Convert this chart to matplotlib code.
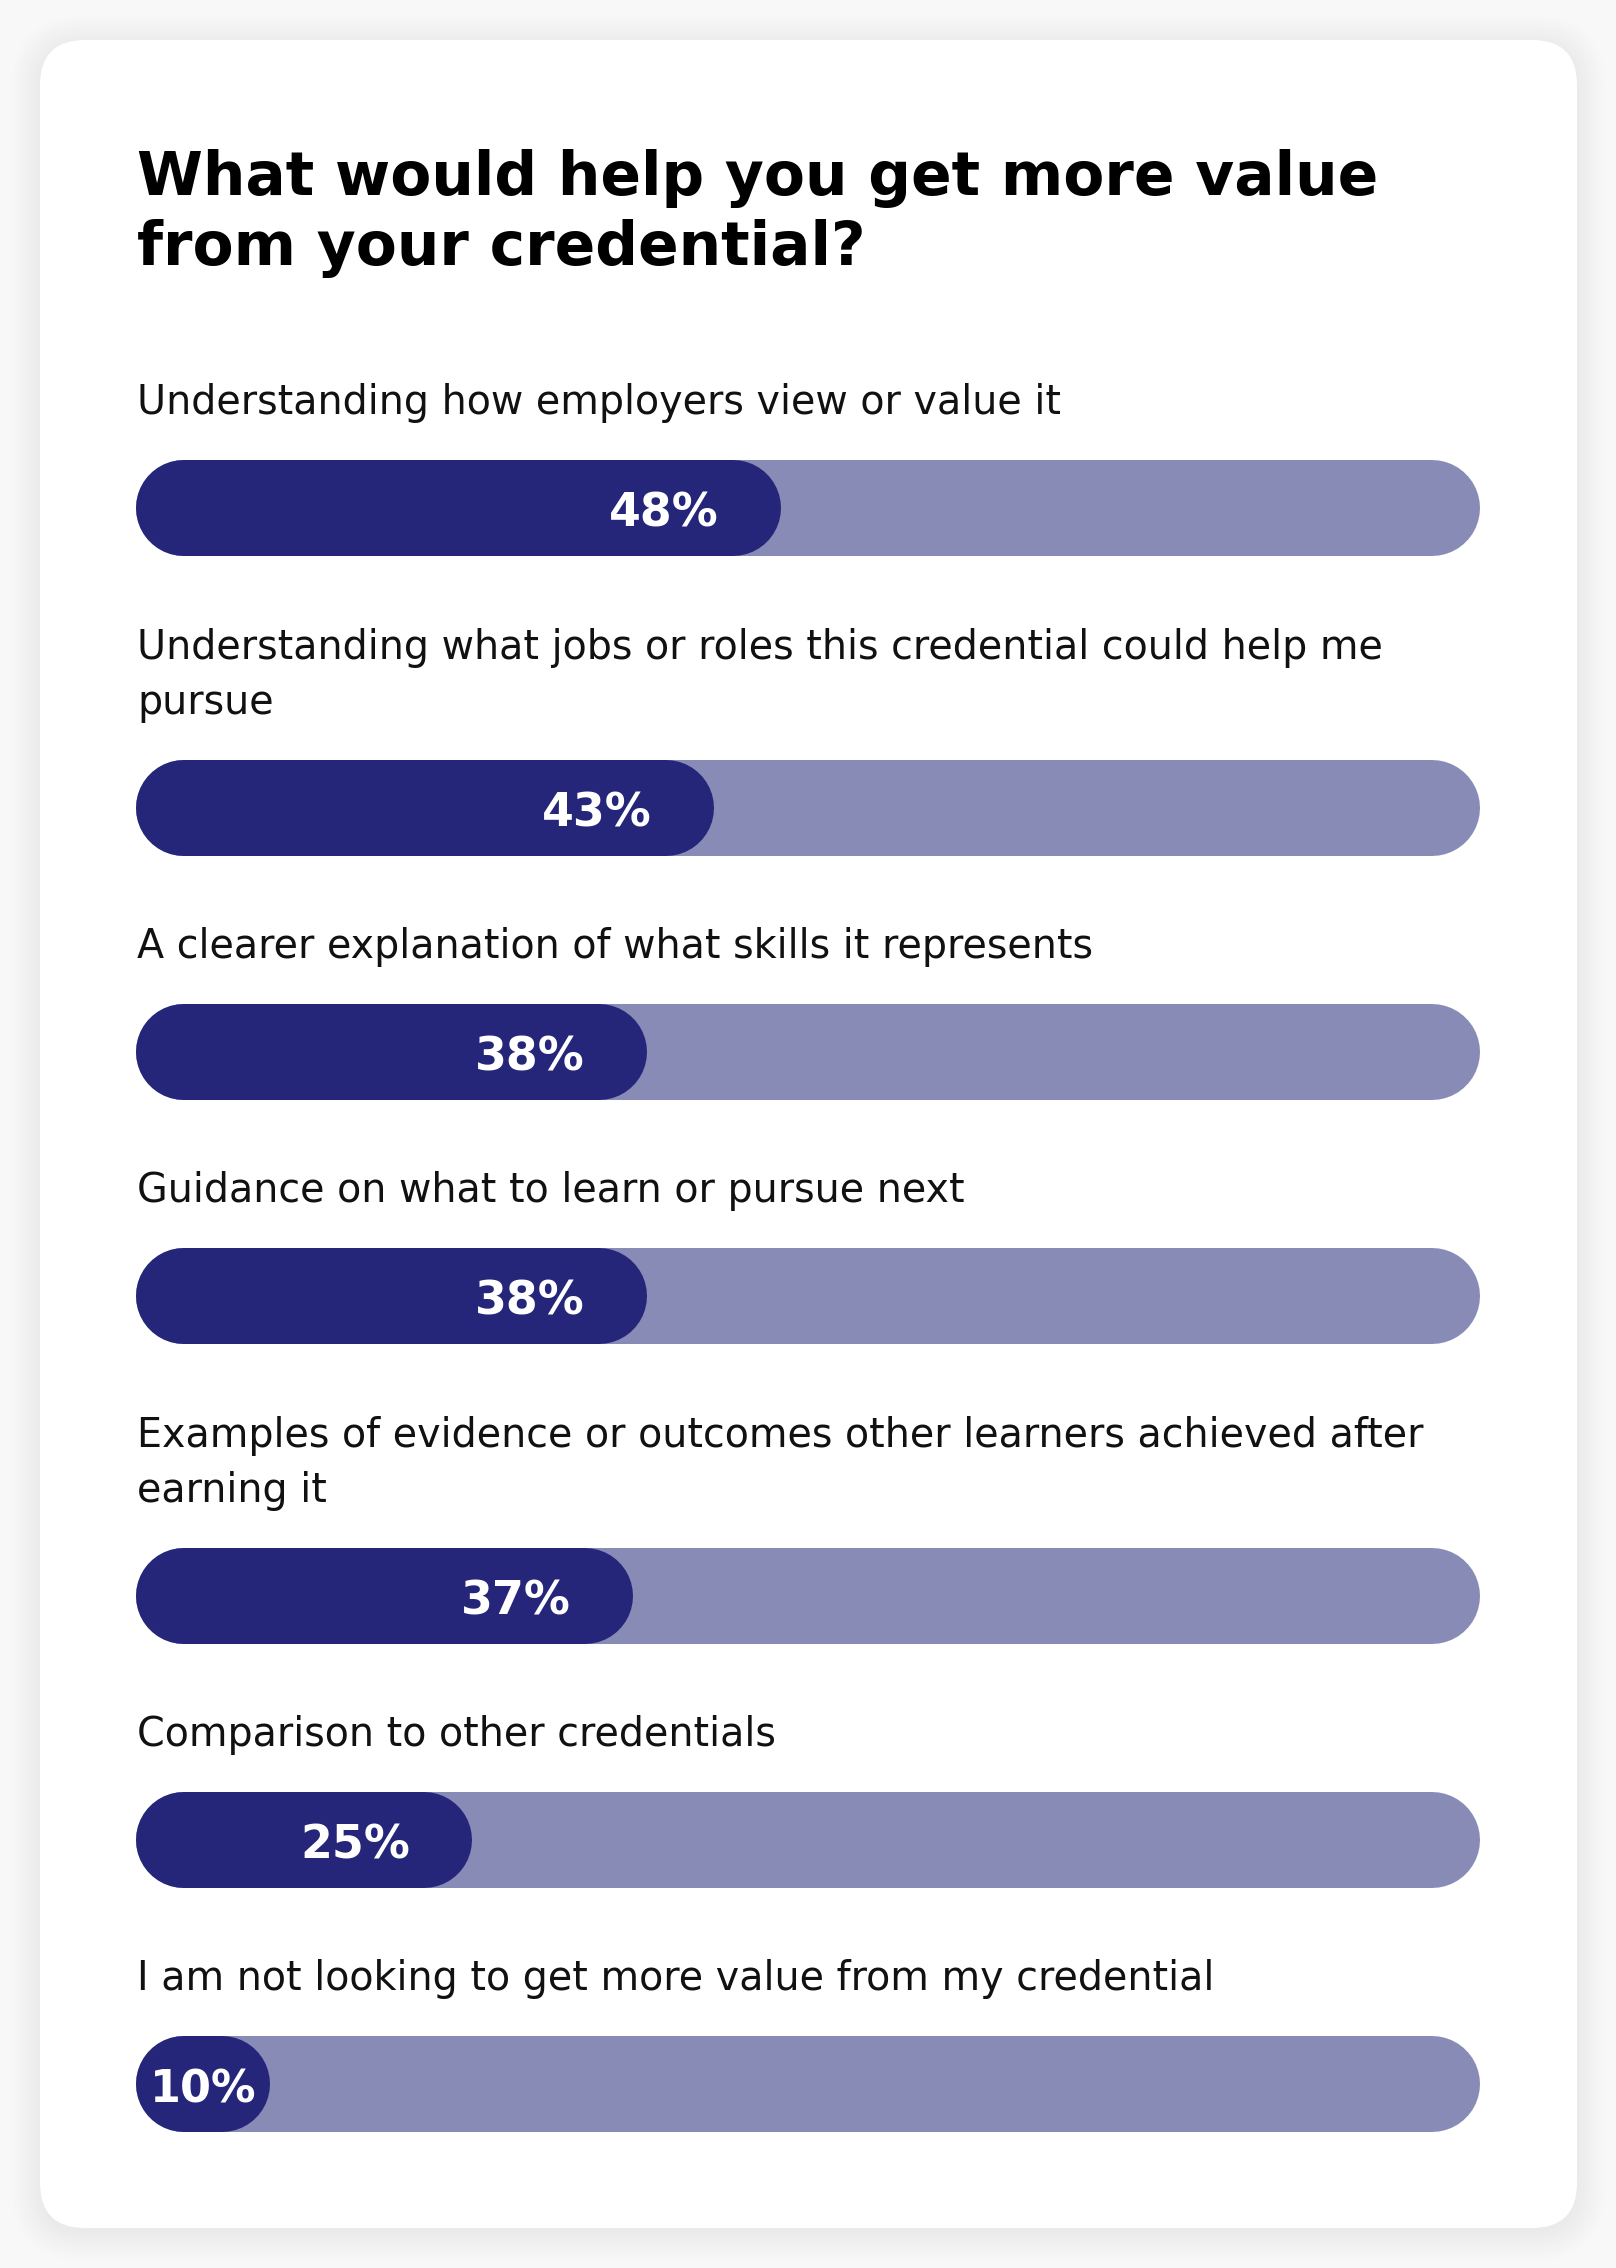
import matplotlib.pyplot as plt
from matplotlib.patches import FancyBboxPatch

title = "What would help you get more value\nfrom your credential?"
labels = [
    "Understanding how employers view or value it",
    "Understanding what jobs or roles this credential could help me\npursue",
    "A clearer explanation of what skills it represents",
    "Guidance on what to learn or pursue next",
    "Examples of evidence or outcomes other learners achieved after\nearning it",
    "Comparison to other credentials",
    "I am not looking to get more value from my credential",
]
values = [48, 43, 38, 38, 37, 25, 10]

DARK = '#25267a'
LIGHT = '#898bb7'

W, H = 1616, 2268
fig = plt.figure(figsize=(W / 100, H / 100), dpi=100, facecolor='#f8f8f8')

# background layer in pixel units (y down)
bg = fig.add_axes([0, 0, 1, 1])
bg.set_xlim(0, W)
bg.set_ylim(H, 0)
bg.axis('off')

cx, cy, cw, ch = 40, 40, 1537, 2188
for i in range(14):
    g = i * 2.2
    bg.add_patch(FancyBboxPatch((cx - g, cy + 4 - g), cw + 2 * g, ch + 2 * g,
                                boxstyle=f"round,pad=0,rounding_size={45 + g}",
                                fc='black', ec='none', alpha=0.005))
bg.add_patch(FancyBboxPatch((cx, cy), cw, ch, boxstyle="round,pad=0,rounding_size=45",
                            fc='white', ec='none'))

bg.text(137, 265, title, fontsize=43, fontweight='bold', family='DejaVu Sans',
        va='baseline', ha='left', linespacing=1.25, color='black')

# bar layer: x in percent, y in pixels
left, right = 136, 1480
ax = fig.add_axes([left / W, 0, (right - left) / W, 1])
ax.set_xlim(0, 100)
ax.set_ylim(H, 0)
ax.axis('off')
ax.patch.set_alpha(0)

bar_h = 96
lw = bar_h * 72 / 100          # bar thickness in points
cap = bar_h / 2 / ((right - left) / 100)   # round cap length in percent units
y = 508
for i, (lab, v) in enumerate(zip(labels, values)):
    if i > 0:
        y += 244 + 56 * lab.count('\n')
    ax.plot([cap, 100 - cap], [y, y], color=LIGHT, lw=lw, solid_capstyle='round')
    ax.plot([cap, v - cap], [y, y], color=DARK, lw=lw, solid_capstyle='round')
    bg.text(137, y - 94, lab, fontsize=28.5, family='DejaVu Sans', va='baseline', ha='left',
            linespacing=1.5, color='#111111')
    if v < 15:
        ax.annotate(f"{v}%", xy=(v / 2, y), xytext=(0, -4), textcoords='offset points',
                    fontsize=32, fontweight='bold', color='white', ha='center', va='center')
    else:
        ax.annotate(f"{v}%", xy=(v, y), xytext=(-62 * 0.72, -4), textcoords='offset points',
                    fontsize=33, fontweight='bold', color='white', ha='right', va='center')

plt.savefig("out.png", dpi=100, facecolor=fig.get_facecolor())
